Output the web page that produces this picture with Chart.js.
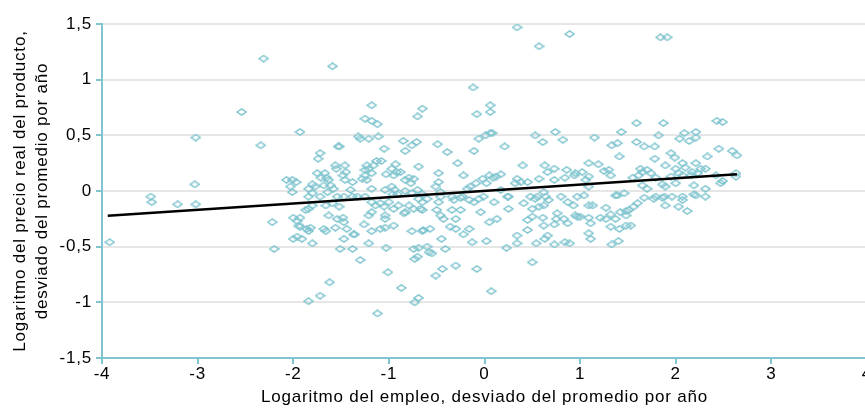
<!DOCTYPE html>
<html lang="es">
<head>
<meta charset="utf-8">
<script src="https://cdn.jsdelivr.net/npm/chart.js@4.4.1/dist/chart.umd.min.js"></script>
<style>
  html, body { margin: 0; padding: 0; background: #fff; overflow: hidden; }
  #wrap { position: relative; width: 875px; height: 410px; }
</style>
</head>
<body>
<div id="wrap"><canvas id="grafico"></canvas></div>
<script>
// Logaritmo del empleo (desviado del promedio por año)
const logEmpleo = [
  -3.92,-3.49,-3.48,-3.21,-3.02,-3.03,-3.02,-2.54,-2.31,-2.34,-1.59,0.34,0.57,0.89,1.84,1.91,
  -1.18,-0.65,-0.70,-1.25,-1.18,-1.12,-1.93,-1.32,-1.30,-1.21,-1.11,-0.85,-0.71,-0.76,-0.83,-1.53,
  -1.52,-1.05,-1.72,-1.74,-1.13,-1.08,-1.16,-1.56,-1.46,-1.55,-1.45,-1.48,-1.23,-1.21,-1.25,-1.18,
  -1.25,-0.93,-0.97,-0.92,-0.88,-0.95,-1.03,-0.69,-1.75,-1.67,-1.65,-1.71,-1.63,-2.07,-2.01,-1.97,
  -2.03,-2.01,-1.80,-1.77,-1.84,-1.80,-1.84,-1.68,-1.61,-1.58,-1.64,-1.46,-1.38,-1.40,-1.28,-1.23,
  -1.18,-1.04,-0.97,-0.94,-0.96,-0.91,-0.83,-0.79,-0.74,-0.77,-0.83,-0.76,-0.70,-0.65,
  -1.72,-1.54,-1.47,-1.38,-1.33,-1.25,-1.18,-1.09,-1.14,-1.00,-1.05,-0.95,-0.90,-0.79,-0.83,-0.74,
  -0.67,-0.65,-0.69,-1.84,-1.87,-1.80,-1.66,-1.59,-1.52,-2.22,-2.00,-1.93,-1.96,-1.94,-1.93,-1.86,
  -1.82,-1.84,-1.63,-1.54,-1.48,-1.47,-1.44,-1.56,-1.66,-1.68,-1.37,-1.36,-1.26,-1.18,-1.09,-1.04,
  -0.95,-1.18,-1.21,-1.04,-1.04,-0.84,-0.76,-0.65,-2.00,-1.96,-1.91,-1.80,-1.47,-2.20,-1.51,-1.38,
  -1.21,-1.03,-0.74,-0.69,-0.70,-0.73,-1.30,-1.01,-1.62,-1.72,-1.84,-0.87,-0.69,-0.73,-1.12,
  -0.12,0.06,-0.08,0.06,0.06,0.01,0.08,-0.06,-0.49,-0.39,-0.11,-0.28,-0.22,0.21,0.53,0.61,
  0.74,0.82,0.40,0.63,0.73,0.86,0.66,0.57,0.17,0.05,-0.02,-0.09,-0.15,-0.18,-0.48,-0.48,
  -0.51,-0.46,0.34,0.38,0.45,0.32,0.73,0.84,0.94,0.17,0.25,0.48,0.55,0.62,-0.34,-0.25,
  0.02,0.09,0.12,
  -0.60,-0.48,-0.46,-0.32,-0.23,-0.16,-0.11,-0.06,-0.01,0.10,0.24,-0.65,-0.50,-0.46,-0.43,-0.34,
  -0.25,-0.30,-0.04,0.25,0.53,0.64,0.67,0.80,0.87,0.93,0.41,0.50,0.57,0.62,0.05,0.13,
  0.45,0.50,0.61,0.76,0.75,0.83,0.97,0.87,0.73,0.62,0.45,-0.64,-0.57,-0.36,-0.30,-0.16,
  -0.22,-0.45,-0.13,0.02,0.34,0.34,0.54,0.63,0.66,0.73,0.84,0.89,-0.60,-0.58,-0.55,-0.41,
  0.23,0.50,-0.30,-0.44,-0.51,-0.08,0.07,
  2.43,2.49,1.59,1.87,1.43,1.15,1.82,2.09,2.21,2.04,2.14,2.21,1.33,1.39,1.59,1.67,
  1.78,1.41,1.95,1.99,1.78,2.33,2.45,2.59,2.64,1.09,1.19,1.02,1.09,0.95,1.25,1.30,
  1.32,1.89,2.07,2.21,2.10,2.00,2.03,2.17,2.26,2.31,2.23,1.63,1.65,1.70,1.74,1.61,
  1.55,1.79,1.95,2.07,2.16,2.42,2.49,2.63,2.63,1.65,1.70,1.86,1.89,2.00,2.19,2.31,
  2.47,1.39,1.46,1.67,1.79,1.86,1.96,2.07,2.19,2.31,1.09,1.06,
  0.97,1.04,1.37,1.77,1.88,2.07,2.21,1.09,1.13,1.27,1.89,2.03,2.12,0.95,1.00,1.09,
  1.21,1.27,1.32,1.37,1.42,1.48,1.51,1.56,1.60,1.48,1.11,1.32,1.41,1.48,1.53,1.09,
  1.11,1.33,1.40
];

// Logaritmo del precio real del producto (desviado del promedio por año)
const logPrecio = [
  -0.46,-0.05,-0.10,-0.12,-0.12,0.06,0.48,0.71,1.19,0.41,1.12,1.47,1.30,1.41,1.38,1.38,
  0.77,0.74,0.67,0.65,0.63,0.60,0.53,0.49,0.47,0.47,0.49,0.45,0.44,0.41,0.36,0.40,
  0.40,0.38,0.34,0.29,0.27,0.27,0.23,0.23,0.23,0.20,0.17,0.14,0.23,0.20,0.19,0.16,
  0.14,0.24,0.20,0.17,0.17,0.14,0.15,0.22,0.16,0.16,0.12,0.12,0.10,0.10,0.10,0.08,
  0.04,-0.01,0.06,0.04,0.02,-0.02,-0.05,0.05,0.05,0.02,-0.01,0.10,0.08,0.01,0.11,0.10,
  0.02,0.01,0.04,0.01,-0.03,-0.03,0.10,0.12,0.11,0.07,0.00,-0.02,0.01,-0.03,
  -0.05,-0.05,-0.05,-0.05,-0.05,-0.05,-0.10,-0.11,-0.13,-0.10,-0.14,-0.16,-0.13,-0.13,-0.19,-0.16,
  -0.16,-0.10,-0.07,-0.16,-0.17,-0.13,-0.13,-0.11,-0.14,-0.28,-0.24,-0.24,-0.27,-0.31,-0.32,-0.34,
  -0.33,-0.36,-0.22,-0.25,-0.24,-0.28,-0.34,-0.33,-0.36,-0.34,-0.39,-0.39,-0.30,-0.36,-0.34,-0.33,
  -0.31,-0.19,-0.22,-0.22,-0.25,-0.20,-0.36,-0.36,-0.43,-0.41,-0.43,-0.47,-0.43,-0.52,-0.52,-0.52,
  -0.47,-0.51,-0.52,-0.51,-0.59,-0.61,-0.62,-0.73,-0.82,-0.94,-0.99,-0.87,-0.96,-1.00,-1.10,
  0.93,0.77,0.69,0.71,0.52,0.50,0.52,0.47,0.42,0.35,0.36,0.25,0.14,0.40,0.50,0.44,
  0.53,0.46,0.23,0.23,0.20,0.19,0.17,0.11,0.15,0.14,0.11,0.07,0.04,0.02,0.16,0.08,
  0.04,-0.01,0.11,0.08,0.08,0.07,0.10,0.12,0.14,0.01,-0.05,-0.05,-0.05,-0.01,-0.05,-0.06,
  0.07,0.12,0.13,
  -0.07,-0.10,-0.05,-0.08,-0.05,-0.08,-0.10,-0.07,-0.05,-0.10,-0.05,-0.17,-0.17,-0.22,-0.25,-0.17,
  -0.17,-0.25,-0.19,-0.16,-0.07,-0.05,-0.08,-0.05,-0.10,-0.13,-0.11,-0.16,-0.14,-0.13,-0.28,-0.25,
  -0.26,-0.23,-0.24,-0.20,-0.25,-0.25,-0.23,-0.29,-0.30,-0.31,-0.35,-0.35,-0.34,-0.32,-0.34,-0.34,
  -0.39,-0.43,-0.46,-0.45,-0.40,-0.47,-0.47,-0.43,-0.40,-0.48,-0.46,-0.47,-0.50,-0.55,-0.56,-0.52,
  -0.51,-0.64,-0.67,-0.70,-0.76,-0.70,-0.90,
  0.63,0.62,0.61,0.61,0.53,0.48,0.50,0.52,0.53,0.47,0.45,0.48,0.41,0.43,0.44,0.40,
  0.40,0.31,0.34,0.30,0.29,0.31,0.38,0.36,0.32,0.25,0.24,0.17,0.13,0.16,0.18,0.19,
  0.14,0.23,0.25,0.25,0.21,0.20,0.16,0.17,0.20,0.20,0.16,0.20,0.17,0.19,0.16,0.14,
  0.12,0.12,0.13,0.14,0.14,0.14,0.09,0.16,0.13,0.05,0.02,0.06,0.04,0.07,0.05,0.02,
  0.07,-0.04,-0.02,-0.06,-0.05,-0.06,-0.05,-0.05,-0.03,-0.05,0.04,0.10,
  -0.05,-0.04,-0.04,-0.07,-0.05,-0.08,-0.04,-0.13,-0.13,-0.15,-0.13,-0.14,-0.18,-0.22,-0.23,-0.24,
  -0.24,-0.25,-0.21,-0.25,-0.19,-0.18,-0.17,-0.14,-0.11,-0.22,-0.29,-0.32,-0.34,-0.31,-0.31,-0.38,
  -0.43,-0.48,-0.45
];

// Recta de regresión: extremos
const rectaX = [-3.94, 2.64];
const rectaY = [-0.222, 0.150];

// Escalas
const ejeX = { min: -4, max: 4, paso: 1 };
const ejeY = { min: -1.5, max: 1.5, paso: 0.5 };

const TEAL = '#7fc4cf';
const FUENTE = "'Liberation Sans', Arial, sans-serif";
const TAM = 17;

// Marcador: rombo achatado, sólo contorno
function rombo() {
  const c = document.createElement('canvas');
  c.width = 11; c.height = 8;
  const g = c.getContext('2d');
  g.strokeStyle = TEAL;
  g.lineWidth = 1.5;
  g.beginPath();
  g.moveTo(1, 4); g.lineTo(5.5, 1); g.lineTo(10, 4); g.lineTo(5.5, 7); g.closePath();
  g.stroke();
  return c;
}

// Espaciado entre letras algo más abierto para todos los textos
const espaciado = {
  id: 'espaciado',
  beforeUpdate(chart) { chart.ctx.letterSpacing = '0.8px'; },
  beforeDraw(chart) { chart.ctx.letterSpacing = '0.8px'; }
};

const puntos = logEmpleo.map((x, i) => ({ x: x, y: logPrecio[i] }));
const recta = rectaX.map((x, i) => ({ x: x, y: rectaY[i] }));

const conComa = v => String(Math.round(v * 10) / 10).replace('.', ',');

new Chart(document.getElementById('grafico'), {
  type: 'scatter',
  plugins: [espaciado],
  data: {
    datasets: [
      {
        type: 'line',
        data: recta,
        borderColor: '#000',
        borderWidth: 2.6,
        pointRadius: 0,
        fill: false,
        order: 0
      },
      {
        data: puntos,
        pointStyle: rombo(),
        pointRadius: 4,
        order: 1
      }
    ]
  },
  options: {
    responsive: true,
    maintainAspectRatio: false,
    animation: false,
    layout: { padding: { top: 24, right: 8, left: 0, bottom: 0 } },
    plugins: { legend: { display: false }, tooltip: { enabled: false } },
    scales: {
      x: {
        type: 'linear',
        min: ejeX.min, max: ejeX.max,
        ticks: { stepSize: ejeX.paso, color: '#000', font: { family: FUENTE, size: TAM }, padding: 0, callback: conComa },
        grid: { drawOnChartArea: false, drawTicks: true, tickLength: 6, color: TEAL, lineWidth: 2 },
        border: { color: TEAL, width: 2 },
        title: { display: true, text: 'Logaritmo del empleo, desviado del promedio por año', color: '#000', font: { family: FUENTE, size: TAM }, padding: { top: 0, bottom: 2 } },
        afterFit: s => { s.height = 52; }
      },
      y: {
        type: 'linear',
        min: ejeY.min, max: ejeY.max,
        ticks: { stepSize: ejeY.paso, color: '#000', font: { family: FUENTE, size: TAM }, padding: 4, callback: conComa },
        grid: { color: '#e6e6e6', lineWidth: 2, tickColor: TEAL, tickLength: 6 },
        border: { color: TEAL, width: 2 },
        title: { display: true, text: ['Logaritmo del precio real del producto,', 'desviado del promedio por año'], color: '#000', font: { family: FUENTE, size: TAM, lineHeight: 1.25 }, padding: { top: 10, bottom: 0 } },
        afterFit: s => { s.width = 102; }
      }
    }
  }
});
</script>
</body>
</html>
